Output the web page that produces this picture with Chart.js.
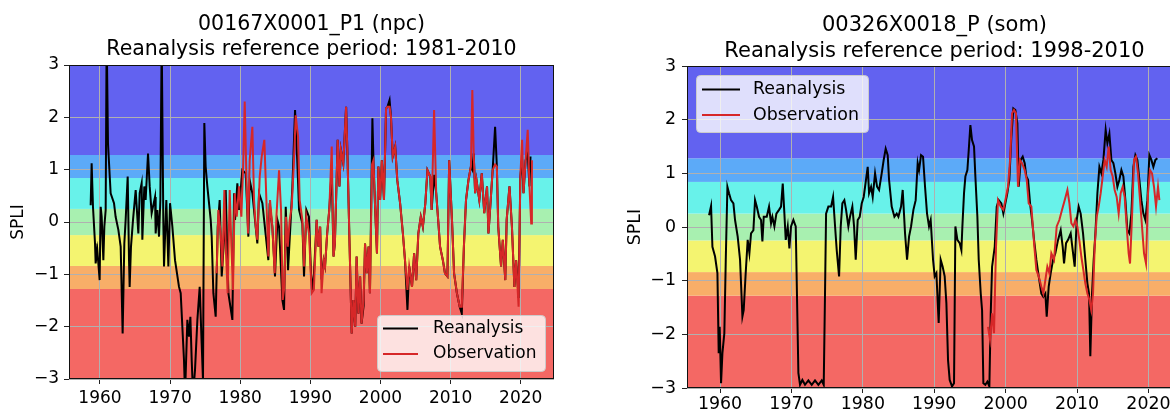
<!DOCTYPE html>
<html>
<head>
<meta charset="utf-8">
<script src="https://cdn.jsdelivr.net/npm/chart.js@4.4.1/dist/chart.umd.min.js"></script>
<style>
  html, body { margin: 0; padding: 0; background: #fff; overflow: hidden; width: 1170px; height: 412px; }
  #left { position: absolute; left: 0; top: 0; }
  #right { position: absolute; left: 600px; top: 0; }
</style>
</head>
<body>
<canvas id="left" width="585" height="412"></canvas>
<canvas id="right" width="610" height="412"></canvas>
<script>
// ticks + SPLI classes
const yearTicks = [1960, 1970, 1980, 1990, 2000, 2010, 2020]
const spliTicks = [-3, -2, -1, 0, 1, 2, 3]
const classBounds = [-3, -1.28, -0.84, -0.25, 0.25, 0.84, 1.28, 3]
const classColors = ['#f46864', '#f8ae68', '#f4f470', '#a8f0b0', '#68f2ea', '#5caaf8', '#6262f0']

// left panel : 00167X0001_P1
const leftReanaYears = [1958.67, 1958.81, 1959.0, 1959.29, 1959.38, 1959.62, 1959.95, 1960.1, 1960.24, 1960.48, 1960.62, 1960.81, 1960.95, 1961.14, 1961.52, 1962.0, 1962.23, 1962.62, 1962.95, 1963.23, 1963.47, 1963.66, 1963.95, 1964.14, 1964.23, 1964.42, 1964.71, 1965.09, 1965.47, 1965.66, 1965.94, 1966.04, 1966.32, 1966.51, 1966.85, 1967.09, 1967.37, 1967.85, 1967.94, 1968.18, 1968.42, 1968.61, 1968.8, 1969.03, 1969.13, 1969.46, 1969.75, 1969.99, 1970.32, 1970.7, 1971.27, 1971.51, 1971.98, 1972.13, 1972.46, 1972.7, 1972.89, 1973.08, 1973.27, 1973.55, 1973.89, 1974.22, 1974.5, 1974.69, 1974.88, 1975.07, 1975.31, 1975.79, 1975.93, 1976.17, 1976.5, 1976.79, 1977.07, 1977.36, 1977.69, 1977.93, 1978.31, 1978.88, 1979.12, 1979.26, 1979.59, 1979.83, 1980.3, 1980.78, 1981.16, 1981.35, 1981.73, 1982.44, 1982.68, 1983.16, 1984.01, 1984.2, 1984.58, 1984.96, 1985.3, 1985.54, 1986.01, 1986.25, 1986.49, 1986.82, 1987.2, 1987.44, 1987.82, 1988.15, 1988.39, 1988.86, 1989.1, 1989.43, 1989.8, 1990.1, 1990.4, 1990.9, 1991.15, 1991.4, 1991.6, 1991.9, 1992.1, 1992.4, 1992.7, 1993.05, 1993.3, 1993.5, 1993.9, 1994.15, 1994.35, 1994.7, 1995.1, 1995.3, 1995.6, 1995.9, 1996.15, 1996.4, 1996.6, 1996.85, 1997.1, 1997.3, 1997.6, 1997.8, 1998.05, 1998.3, 1998.5, 1998.85, 1999.0, 1999.25, 1999.5, 1999.7, 1999.95, 2000.2, 2000.5, 2000.8, 2001.0, 2001.3, 2001.5, 2001.75, 2002.1, 2002.4, 2002.8, 2003.2, 2003.5, 2003.85, 2004.1, 2004.5, 2004.8, 2005.1, 2005.4, 2005.75, 2006.05, 2006.4, 2006.7, 2007.1, 2007.3, 2007.65, 2007.95, 2008.3, 2008.5, 2008.9, 2009.2, 2009.55, 2009.8, 2010.2, 2010.5, 2010.9, 2011.3, 2011.6, 2011.9, 2012.2, 2012.55, 2012.9, 2013.1, 2013.3, 2013.5, 2013.7, 2014.1, 2014.45, 2014.8, 2015.2, 2015.4, 2015.6, 2016.0, 2016.35, 2016.6, 2016.8, 2017.2, 2017.45, 2017.8, 2018.0, 2018.4, 2018.75, 2019.1, 2019.35, 2019.7, 2019.95, 2020.2, 2020.4, 2020.7, 2021.0, 2021.25, 2021.4]
const leftReana = [0.32, 1.12, 0.29, -0.41, -0.79, -0.54, -1.11, 0.29, 0.10, -0.73, -0.09, 0.23, 3.6, 1.5, 0.55, 0.36, 0.10, -0.15, -0.47, -2.13, -0.41, 0.04, 0.87, -0.73, -1.24, -0.47, 0.04, 0.61, -0.22, 0.55, 0.74, -0.34, 0.68, 0.42, 1.31, 0.68, 0.17, 0.48, -0.22, 0.23, -0.28, 0.42, 3.5, 0.04, -0.85, 0.42, -0.85, 0.36, -0.09, -0.73, -1.24, -1.36, -2.64, -3.3, -1.87, -2.19, -1.81, -2.64, -3.3, -2.83, -1.87, -1.24, -2.32, -3.02, 1.89, 1.06, 0.68, 0.04, -0.28, -1.36, -1.81, -0.09, 0.42, -1.04, -0.34, 0.61, -1.36, -1.87, 0.55, 0.04, 0.74, 0.23, 0.99, 0.93, -0.28, 0.80, 0.55, -0.41, 0.55, 0.36, -0.73, 0.36, -0.09, -1.04, 0.04, -0.09, -1.49, -1.68, 0.29, -0.92, 0.04, 0.68, 2.14, 1.12, 0.23, -0.03, -1.04, 0.23, 0.1, -1.0, -1.3, 0.04, -0.47, -0.09, -1.1, -0.73, -0.85, -0.22, 0.23, 1.0, -0.66, -0.41, 1.57, 0.68, 1.38, 1.12, 2.2, 1.25, -0.47, -2.13, -1.49, -2.0, -0.66, -1.75, -1.04, -1.94, -1.6, -0.41, -0.98, -0.47, -1.36, 1.98, 1.18, 0.23, -0.6, 1.06, 0.42, 1.18, 0.42, 2.17, 2.2, 2.33, 2.01, 1.25, 1.44, 0.8, 0.36, -0.22, -0.73, -1.68, -0.85, -1.24, -0.6, -1.11, -0.22, 0.1, -0.09, 0.36, 0.99, 0.87, 0.23, 0.9, 0.55, -0.09, -0.47, -0.73, -0.98, -1.04, 1.18, 0.04, -0.98, -1.36, -1.62, -1.75, -0.47, 0.42, 0.8, 1.06, 1.0, 1.31, 0.55, 0.8, 0.42, 0.93, 0.17, 0.68, -0.22, 0.17, 0.99, 1.82, 1.06, -0.09, -0.85, -0.34, -1.11, 0.04, 0.68, -0.09, -1.24, -0.73, -1.45, 0.87, 1.2, 0.55, 1.18, 1.3, 0.68, 1.25]

const leftObsYears = [1976.64, 1976.88, 1977.21, 1977.45, 1977.74, 1977.93, 1978.21, 1978.5, 1978.74, 1978.97, 1979.21, 1979.5, 1979.83, 1980.16, 1980.4, 1980.64, 1980.87, 1981.11, 1981.35, 1981.73, 1981.97, 1982.21, 1982.44, 1982.78, 1983.06, 1983.44, 1983.73, 1984.01, 1984.25, 1984.58, 1984.92, 1985.16, 1985.54, 1985.82, 1986.06, 1986.3, 1986.53, 1986.77, 1987.06, 1987.34, 1987.67, 1987.91, 1988.25, 1988.48, 1988.86, 1989.1, 1989.43, 1989.81, 1990.19, 1990.5, 1990.9, 1991.15, 1991.4, 1991.6, 1991.9, 1992.1, 1992.4, 1992.7, 1993.05, 1993.3, 1993.5, 1993.9, 1994.15, 1994.35, 1994.7, 1995.1, 1995.3, 1995.6, 1995.9, 1996.15, 1996.4, 1996.6, 1996.85, 1997.1, 1997.3, 1997.6, 1997.8, 1998.05, 1998.3, 1998.5, 1998.8, 1999.0, 1999.25, 1999.5, 1999.7, 1999.95, 2000.2, 2000.5, 2000.8, 2001.0, 2001.3, 2001.5, 2001.75, 2002.1, 2002.4, 2002.8, 2003.2, 2003.5, 2003.85, 2004.1, 2004.5, 2004.8, 2005.1, 2005.4, 2005.75, 2006.05, 2006.4, 2006.7, 2007.1, 2007.3, 2007.65, 2007.95, 2008.3, 2008.5, 2008.9, 2009.2, 2009.55, 2009.8, 2010.2, 2010.5, 2010.9, 2011.3, 2011.6, 2011.9, 2012.2, 2012.55, 2012.9, 2013.1, 2013.3, 2013.5, 2013.7, 2014.1, 2014.45, 2014.8, 2015.2, 2015.4, 2015.6, 2016.0, 2016.35, 2016.6, 2016.8, 2017.2, 2017.45, 2017.8, 2018.0, 2018.4, 2018.75, 2019.1, 2019.35, 2019.7, 2019.95, 2020.2, 2020.4, 2020.7, 2021.0, 2021.25, 2021.5, 2021.6]
const leftObs = [-0.98, 0.23, -0.22, -0.85, 0.61, -0.47, -1.36, 0.61, -0.47, -1.3, 0.55, 0.1, 0.68, 0.1, 0.99, 2.3, 0.93, -0.22, 1.18, 1.82, 0.42, -0.09, -0.34, 0.87, 1.25, 1.57, 0.42, -0.66, 0.42, -0.09, -0.98, 0.1, 0.99, 0.23, -1.49, -1.24, 0.1, -0.47, 0.04, 0.29, 1.18, 2.04, 1.63, 0.42, 0.04, -0.85, 0.1, -0.22, -1.36, -1.3, 0.04, -0.47, -0.09, -1.36, -0.73, -0.85, -0.22, 0.23, 1.44, -0.66, -0.41, 1.57, 0.68, 1.38, 1.12, 2.2, 1.25, -0.47, -2.13, -1.49, -2.0, -0.66, -1.75, -1.04, -1.94, -1.49, -0.41, -0.98, -0.47, -1.36, 1.1, 1.18, 0.23, -0.6, 1.06, 0.42, 1.18, 0.42, 2.17, 2.2, 2.2, 2.01, 1.25, 1.44, 0.8, 0.36, -0.22, -0.73, -1.3, -0.85, -1.24, -0.6, -1.11, -0.22, 0.1, -0.09, 0.36, 0.99, 0.87, 0.23, 2.14, 0.55, -0.09, -0.47, -0.73, -0.98, -1.04, 1.18, 0.04, -0.98, -1.36, -1.62, -1.62, -0.47, 0.42, 0.8, 1.06, 2.52, 1.31, 0.55, 0.8, 0.42, 0.93, 0.17, 0.68, -0.22, 0.17, 0.99, 1.1, 1.06, -0.09, -0.85, -0.34, -1.11, 0.04, 0.68, -0.09, -1.24, -0.73, -1.62, 0.87, 1.57, 0.55, 1.18, 1.76, 0.68, -0.03, 1.18]

// right panel : 00326X0018_P
const rightReanaYears = [1958.46, 1958.74, 1958.93, 1959.3, 1959.63, 1959.81, 1959.95, 1960.14, 1960.33, 1960.6, 1960.8, 1961.03, 1961.26, 1961.54, 1961.87, 1962.1, 1962.47, 1962.8, 1963.13, 1963.31, 1963.59, 1963.87, 1964.11, 1964.34, 1964.67, 1964.9, 1965.14, 1965.46, 1965.74, 1965.93, 1966.12, 1966.54, 1966.86, 1967.14, 1967.33, 1967.61, 1967.89, 1968.26, 1968.54, 1968.78, 1969.01, 1969.2, 1969.48, 1969.71, 1969.94, 1970.27, 1970.6, 1970.97, 1971.2, 1971.53, 1971.9, 1972.37, 1972.84, 1973.3, 1973.77, 1974.24, 1974.52, 1974.7, 1974.85, 1975.17, 1975.55, 1975.83, 1976.11, 1976.34, 1976.67, 1976.9, 1977.13, 1977.41, 1977.65, 1977.97, 1978.2, 1978.53, 1978.77, 1979.0, 1979.28, 1979.56, 1979.84, 1980.12, 1980.31, 1980.68, 1980.87, 1981.15, 1981.38, 1981.71, 1981.99, 1982.27, 1982.64, 1982.92, 1983.2, 1983.48, 1983.67, 1984.04, 1984.42, 1984.74, 1984.98, 1985.35, 1985.58, 1985.91, 1986.19, 1986.47, 1986.75, 1987.08, 1987.4, 1987.68, 1987.87, 1988.15, 1988.43, 1988.71, 1988.99, 1989.27, 1989.5, 1989.83, 1990.06, 1990.3, 1990.62, 1990.9, 1991.18, 1991.46, 1991.7, 1991.93, 1992.16, 1992.49, 1992.77, 1992.96, 1993.24, 1993.56, 1993.8, 1993.94, 1994.17, 1994.36, 1994.64, 1994.83, 1995.06, 1995.29, 1995.57, 1995.76, 1996.04, 1996.23, 1996.51, 1996.7, 1996.88, 1997.16, 1997.44, 1997.72, 1997.91, 1998.1, 1998.47, 1998.75, 1999.03, 1999.4, 1999.68, 1999.96, 2000.24, 2000.52, 2000.8, 2001.08, 2001.36, 2001.64, 2001.83, 2002.11, 2002.39, 2002.67, 2002.9, 2003.14, 2003.42, 2003.7, 2003.98, 2004.3, 2004.63, 2005.0, 2005.28, 2005.56, 2005.75, 2006.03, 2006.31, 2006.64, 2006.96, 2007.34, 2007.71, 2007.99, 2008.18, 2008.46, 2008.74, 2009.11, 2009.39, 2009.67, 2009.95, 2010.23, 2010.51, 2010.84, 2011.16, 2011.45, 2011.68, 2011.86, 2012.1, 2012.33, 2012.57, 2012.85, 2013.13, 2013.41, 2013.69, 2014.01, 2014.25, 2014.53, 2014.81, 2015.09, 2015.37, 2015.65, 2015.93, 2016.21, 2016.49, 2016.77, 2017.05, 2017.33, 2017.61, 2017.89, 2018.17, 2018.45, 2018.73, 2019.01, 2019.29, 2019.57, 2019.85, 2020.13, 2020.41, 2020.69, 2020.97, 2021.25]
const rightReana = [0.22, 0.39, -0.37, -0.55, -0.86, -2.35, -1.86, -2.91, -2.35, -1.98, -0.61, 0.75, 0.63, 0.50, 0.44, 0.13, -0.18, -0.61, -1.67, -1.55, -0.86, -0.24, -0.49, -0.12, -0.06, 0.50, 0.38, 0.19, 0.13, -0.27, 0.19, 0.19, 0.38, 0.07, 0.19, 0.01, 0.25, 0.32, 0.38, 0.81, 0.25, -0.24, 0.01, -0.40, 0.01, 0.13, 0.01, -2.72, -2.94, -2.85, -2.94, -2.86, -2.94, -2.86, -2.94, -2.86, -2.94, -1.24, 0.25, 0.38, 0.38, 0.56, 0.01, -0.43, -0.92, 0.01, 0.44, 0.50, 0.32, 0.01, 0.19, 0.38, 0.01, -0.61, 0.13, 0.19, 0.44, 0.56, 0.75, 1.12, 0.63, 0.75, 0.56, 1.00, 0.75, 0.69, 1.00, 1.25, 1.46, 1.34, 0.88, 0.38, 0.19, 0.25, 0.19, 0.38, 0.69, -0.12, -0.61, -0.18, 0.01, 0.32, 0.50, 1.19, 1.06, 1.34, 1.31, 0.75, 0.25, 0.01, 0.13, -0.61, -0.92, -0.86, -1.79, -0.61, -0.74, -0.92, -1.42, -2.48, -2.85, -2.97, -2.91, 0.01, -0.24, -0.30, -0.43, 0.01, 0.63, 0.94, 1.06, 1.43, 1.90, 1.62, 1.50, 0.94, 0.19, -0.61, -1.24, -1.55, -2.91, -2.94, -2.88, -2.97, -1.61, -0.74, -0.37, 0.38, 0.50, 0.44, 0.25, 0.44, 0.63, 0.88, 1.68, 2.21, 2.18, 1.93, 0.75, 1.25, 1.31, 1.19, 0.94, 0.88, 0.44, 0.13, -0.24, -0.61, -0.92, -1.24, -1.30, -1.24, -1.67, -1.11, -0.86, -0.61, -0.49, -0.24, -0.06, -0.37, -0.68, -0.30, -0.24, -0.12, -0.43, -0.74, 0.13, 0.38, 0.25, -0.12, -0.61, -1.05, -1.24, -2.41, -1.24, -0.61, -0.12, 0.63, 1.12, 1.00, 1.25, 1.81, 1.56, 1.74, 1.25, 1.19, 1.00, 0.75, 0.88, 1.06, 0.94, 0.50, -0.06, -0.12, 0.25, 1.12, 1.34, 1.25, 0.88, 0.50, 0.25, 0.13, 0.50, 1.34, 1.25, 1.12, 1.25, 1.28]

const rightObsYears = [1997.53, 1997.81, 1998.1, 1998.37, 1998.65, 1998.93, 1999.31, 1999.68, 1999.96, 2000.33, 2000.62, 2000.9, 2001.17, 2001.45, 2001.73, 2002.0, 2002.3, 2002.67, 2002.95, 2003.23, 2003.6, 2003.98, 2004.3, 2004.63, 2005.0, 2005.28, 2005.56, 2005.84, 2006.12, 2006.4, 2006.78, 2007.15, 2007.52, 2007.9, 2008.27, 2008.65, 2008.93, 2009.2, 2009.49, 2009.76, 2010.04, 2010.32, 2010.6, 2010.88, 2011.16, 2011.45, 2011.73, 2012.0, 2012.24, 2012.47, 2012.75, 2013.03, 2013.31, 2013.59, 2013.87, 2014.15, 2014.43, 2014.71, 2014.99, 2015.27, 2015.55, 2015.83, 2016.11, 2016.39, 2016.67, 2016.95, 2017.23, 2017.42, 2017.7, 2017.98, 2018.26, 2018.54, 2018.82, 2019.1, 2019.38, 2019.66, 2019.94, 2020.22, 2020.5, 2020.78, 2021.06, 2021.34, 2021.53]
const rightObs = [-1.86, -2.10, -1.61, -1.98, -0.37, 0.50, 0.38, 0.32, 0.50, 0.75, 1.25, 2.12, 2.18, 2.12, 0.75, 1.25, 1.19, 1.06, 0.88, 0.44, 0.38, -0.30, -0.80, -0.92, -1.11, -1.24, -0.99, -0.74, -0.86, -0.49, -0.61, 0.01, 0.13, 0.32, 0.50, 0.69, 0.44, 0.07, 0.01, 0.13, 0.01, -0.24, -0.55, -0.80, -1.05, -1.24, -1.36, -1.55, -1.24, -0.37, 0.19, 0.38, 0.63, 0.94, 1.25, 1.12, 1.50, 1.06, 0.94, 0.69, 0.56, 0.25, 0.63, 0.75, 0.56, 0.01, -0.49, -0.68, 0.19, 1.25, 1.31, 1.00, 0.50, 0.01, -0.49, -0.68, 0.63, 1.06, 1.00, 0.75, 0.38, 0.75, 0.50]

Chart.defaults.font.family = '"DejaVu Sans", sans-serif'
Chart.defaults.color = '#000'

const toPoints = (xs, ys) => xs.map((x, i) => ({ x: x, y: ys[i] }))
const minusFmt = v => v < 0 ? '\u2212' + Math.abs(v) : String(v)

// colored SPLI bands behind the grid
const bandsPlugin = {
    id: 'spliBands',
    beforeDraw(chart) {
        const { ctx, chartArea: a, scales: { y } } = chart
        ctx.save()
        for (let i = 0; i < classColors.length; i++) {
            const top = y.getPixelForValue(classBounds[i + 1])
            const bot = y.getPixelForValue(classBounds[i])
            ctx.fillStyle = classColors[i]
            ctx.fillRect(a.left, top, a.right - a.left, bot - top)
        }
        ctx.restore()
    }
}

// black box all around like matplotlib spines
const framePlugin = {
    id: 'frame',
    afterDatasetsDraw(chart) {
        const { ctx, chartArea: a } = chart
        ctx.save()
        ctx.strokeStyle = '#111'
        ctx.lineWidth = 1
        ctx.strokeRect(Math.round(a.left) + 0.5, Math.round(a.top) + 0.5, Math.round(a.right - a.left) - 1, Math.round(a.bottom - a.top) - 1)
        ctx.restore()
    }
}

const legendPlugin = {
    id: 'boxLegend',
    afterDraw(chart, args, o) {
        const ctx = chart.ctx
        ctx.save()
        ctx.beginPath()
        ctx.roundRect(o.x + 0.5, o.y + 0.5, o.w, o.h, 4)
        ctx.fillStyle = 'rgba(255,255,255,0.8)'
        ctx.fill()
        ctx.strokeStyle = '#cccccc'
        ctx.lineWidth = 1
        ctx.stroke()
        ctx.font = o.size + 'px "DejaVu Sans"'
        ctx.textBaseline = 'middle'
        chart.data.datasets.forEach((ds, i) => {
            const yy = o.y + o.row0 + i * o.gap
            ctx.strokeStyle = ds.borderColor
            ctx.lineWidth = 2
            ctx.beginPath()
            ctx.moveTo(o.x + o.lineX, yy)
            ctx.lineTo(o.x + o.lineX + o.lineLen, yy)
            ctx.stroke()
            ctx.fillStyle = '#000'
            ctx.fillText(ds.label, o.x + o.textX, yy)
        })
        ctx.restore()
    }
}

function makePanel(id, p) {
    return new Chart(document.getElementById(id), {
        type: 'line',
        data: {
            datasets: [
                { label: 'Reanalysis', data: toPoints(p.reYears, p.reVals), borderColor: '#000000', order: 1 },
                { label: 'Observation', data: toPoints(p.obYears, p.obVals), borderColor: '#d62728', order: 0 }
            ]
        },
        options: {
            responsive: false,
            animation: false,
            devicePixelRatio: 1,
            layout: { padding: { left: 0, right: p.padRight, top: 0, bottom: 0 } },
            elements: { point: { radius: 0 }, line: { borderWidth: 2, tension: 0 } },
            plugins: {
                legend: { display: false },
                tooltip: { enabled: false },
                title: {
                    display: true,
                    text: p.title,
                    fullSize: false,
                    color: '#000',
                    font: { size: p.titleSize, weight: 'normal', lineHeight: 1.2 },
                    padding: { top: p.titleTop, bottom: p.titleBottom }
                },
                boxLegend: p.legend
            },
            scales: {
                x: {
                    type: 'linear',
                    min: p.xMin,
                    max: p.xMax,
                    afterBuildTicks: s => { s.ticks = yearTicks.map(v => ({ value: v })) },
                    afterFit: s => { s.height = p.xAxisH },
                    ticks: { callback: v => String(v), font: { size: p.tickSize }, color: '#000', padding: p.xPad, maxRotation: 0, autoSkip: false },
                    grid: { color: '#b0b0b0', tickColor: '#222', tickLength: 5, lineWidth: 1 },
                    border: { display: false }
                },
                y: {
                    min: -3,
                    max: 3,
                    afterBuildTicks: s => { s.ticks = spliTicks.map(v => ({ value: v })) },
                    afterFit: s => { s.width = p.yAxisW },
                    ticks: { callback: minusFmt, font: { size: p.tickSize }, color: '#000', padding: p.yPad },
                    grid: { color: '#b0b0b0', tickColor: '#222', tickLength: 5, lineWidth: 1 },
                    border: { display: false },
                    title: { display: true, text: 'SPLI', color: '#000', font: { size: p.tickSize, lineHeight: 1.2 }, padding: { top: p.yTitlePad, bottom: 0 } }
                }
            }
        },
        plugins: [bandsPlugin, framePlugin, legendPlugin]
    })
}

makePanel('left', {
    title: ['00167X0001_P1 (npc)', 'Reanalysis reference period: 1981-2010'],
    reYears: leftReanaYears, reVals: leftReana,
    obYears: leftObsYears, obVals: leftObs,
    xMin: 1955.58, xMax: 2024.75,
    padRight: 31, xAxisH: 33, yAxisW: 69,
    titleSize: 20.5, titleTop: 12.6, titleBottom: 3.2,
    tickSize: 17, xPad: 4, yPad: 5, yTitlePad: 8,
    legend: { x: 377, y: 315, w: 168, h: 56, row0: 13.5, gap: 25.5, lineX: 6, lineLen: 35, textX: 56, size: 17 }
})

makePanel('right', {
    title: ['00326X0018_P (som)', 'Reanalysis reference period: 1998-2010'],
    reYears: rightReanaYears, reVals: rightReana,
    obYears: rightObsYears, obVals: rightObs,
    xMin: 1955.37, xMax: 2024.7,
    padRight: 28, xAxisH: 24, yAxisW: 87,
    titleSize: 21, titleTop: 13.4, titleBottom: 2.2,
    tickSize: 17.4, xPad: 1, yPad: 6, yTitlePad: 25,
    legend: { x: 96, y: 75, w: 172, h: 57, row0: 14.5, gap: 25.5, lineX: 6, lineLen: 38, textX: 57, size: 17.4 }
})
</script>
</body>
</html>
